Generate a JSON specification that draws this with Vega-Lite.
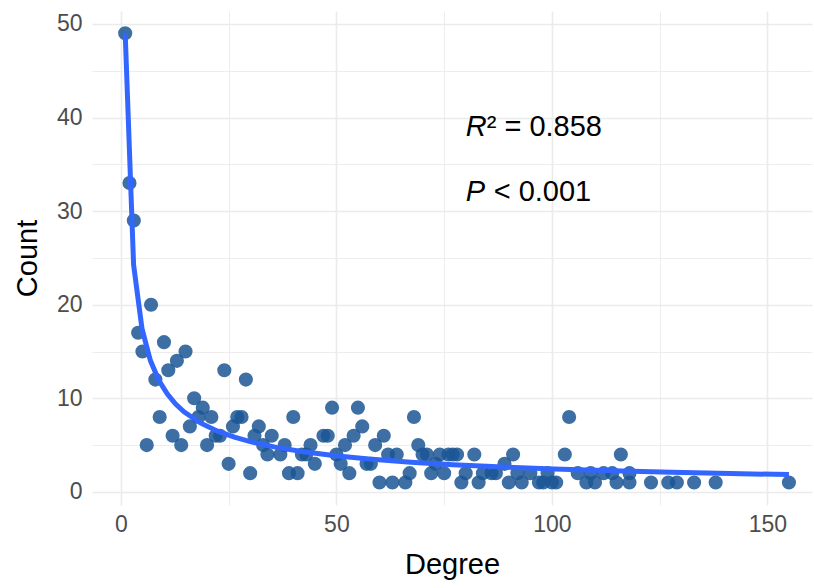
{
  "$schema": "https://vega.github.io/schema/vega-lite/v6.json",
  "width": 720,
  "height": 494,
  "autosize": "none",
  "padding": {"left": 92, "top": 11, "right": 2, "bottom": 83},
  "background": "white",
  "config": {
    "view": {"stroke": null},
    "font": "Liberation Sans",
    "axis": {
      "domain": false,
      "ticks": false,
      "gridColor": "#EBEBEB",
      "labelFont": "Liberation Sans",
      "labelFontSize": 23,
      "labelColor": "#4D4D4D",
      "titleFont": "Liberation Sans",
      "titleFontSize": 29,
      "titleFontWeight": "normal",
      "titleColor": "#000000"
    }
  },
  "datasets": {
    "pts": [
      {"degree": 1, "count": 49}, {"degree": 2, "count": 33}, {"degree": 3, "count": 29},
      {"degree": 4, "count": 17}, {"degree": 5, "count": 15}, {"degree": 6, "count": 5},
      {"degree": 7, "count": 20}, {"degree": 8, "count": 12}, {"degree": 9, "count": 8},
      {"degree": 10, "count": 16}, {"degree": 11, "count": 13}, {"degree": 12, "count": 6},
      {"degree": 13, "count": 14}, {"degree": 14, "count": 5}, {"degree": 15, "count": 15},
      {"degree": 16, "count": 7}, {"degree": 17, "count": 10}, {"degree": 18, "count": 8},
      {"degree": 19, "count": 9}, {"degree": 20, "count": 5}, {"degree": 21, "count": 8},
      {"degree": 22, "count": 6}, {"degree": 23, "count": 6}, {"degree": 24, "count": 13},
      {"degree": 25, "count": 3}, {"degree": 26, "count": 7}, {"degree": 27, "count": 8},
      {"degree": 28, "count": 8}, {"degree": 29, "count": 12}, {"degree": 30, "count": 2},
      {"degree": 31, "count": 6}, {"degree": 32, "count": 7}, {"degree": 33, "count": 5},
      {"degree": 34, "count": 4}, {"degree": 35, "count": 6}, {"degree": 37, "count": 4},
      {"degree": 38, "count": 5}, {"degree": 39, "count": 2}, {"degree": 40, "count": 8},
      {"degree": 41, "count": 2}, {"degree": 42, "count": 4}, {"degree": 43, "count": 4},
      {"degree": 44, "count": 5}, {"degree": 45, "count": 3}, {"degree": 47, "count": 6},
      {"degree": 48, "count": 6}, {"degree": 49, "count": 9}, {"degree": 50, "count": 4},
      {"degree": 51, "count": 3}, {"degree": 52, "count": 5}, {"degree": 53, "count": 2},
      {"degree": 54, "count": 6}, {"degree": 55, "count": 9}, {"degree": 56, "count": 7},
      {"degree": 57, "count": 3}, {"degree": 58, "count": 3}, {"degree": 59, "count": 5},
      {"degree": 60, "count": 1}, {"degree": 61, "count": 6}, {"degree": 62, "count": 4},
      {"degree": 63, "count": 1}, {"degree": 64, "count": 4}, {"degree": 66, "count": 1},
      {"degree": 67, "count": 2}, {"degree": 68, "count": 8}, {"degree": 69, "count": 5},
      {"degree": 70, "count": 4}, {"degree": 71, "count": 4}, {"degree": 72, "count": 2},
      {"degree": 73, "count": 3}, {"degree": 74, "count": 4}, {"degree": 75, "count": 2},
      {"degree": 76, "count": 4}, {"degree": 77, "count": 4}, {"degree": 78, "count": 4},
      {"degree": 79, "count": 1}, {"degree": 80, "count": 2}, {"degree": 82, "count": 4},
      {"degree": 83, "count": 1}, {"degree": 84, "count": 2}, {"degree": 86, "count": 2},
      {"degree": 87, "count": 2}, {"degree": 89, "count": 3}, {"degree": 90, "count": 1},
      {"degree": 91, "count": 4}, {"degree": 92, "count": 2}, {"degree": 93, "count": 1},
      {"degree": 95, "count": 2}, {"degree": 97, "count": 1}, {"degree": 98, "count": 1},
      {"degree": 99, "count": 2}, {"degree": 100, "count": 1}, {"degree": 101, "count": 1},
      {"degree": 103, "count": 4}, {"degree": 104, "count": 8}, {"degree": 106, "count": 2},
      {"degree": 108, "count": 1}, {"degree": 109, "count": 2}, {"degree": 110, "count": 1},
      {"degree": 112, "count": 2}, {"degree": 114, "count": 2}, {"degree": 115, "count": 1},
      {"degree": 116, "count": 4}, {"degree": 118, "count": 2}, {"degree": 118, "count": 1},
      {"degree": 123, "count": 1}, {"degree": 127, "count": 1}, {"degree": 129, "count": 1},
      {"degree": 133, "count": 1}, {"degree": 138, "count": 1}, {"degree": 155, "count": 1}
    ],
    "fit": [
      {"degree": 1, "count": 49}, {"degree": 2.95, "count": 24.26}, {"degree": 4.9, "count": 17.44},
      {"degree": 6.85, "count": 14.03}, {"degree": 8.8, "count": 11.92}, {"degree": 10.75, "count": 10.47},
      {"degree": 12.7, "count": 9.39}, {"degree": 14.65, "count": 8.56}, {"degree": 18.55, "count": 7.34},
      {"degree": 22.45, "count": 6.49}, {"degree": 26.35, "count": 5.85}, {"degree": 30.25, "count": 5.34},
      {"degree": 36.1, "count": 4.76}, {"degree": 41.95, "count": 4.32}, {"degree": 49.75, "count": 3.86},
      {"degree": 57.55, "count": 3.52}, {"degree": 67.3, "count": 3.18}, {"degree": 77.05, "count": 2.91},
      {"degree": 88.75, "count": 2.65}, {"degree": 100.45, "count": 2.45}, {"degree": 114.1, "count": 2.26},
      {"degree": 127.75, "count": 2.09}, {"degree": 141.4, "count": 1.96}, {"degree": 155, "count": 1.85}
    ]
  },
  "layer": [
    {
      "data": {"name": "pts"},
      "mark": {"type": "circle", "size": 200, "color": "#1B5695", "opacity": 0.85},
      "encoding": {
        "x": {
          "field": "degree", "type": "quantitative",
          "scale": {"domain": [-6.7, 160.35], "nice": false, "zero": false},
          "axis": {
            "title": "Degree",
            "values": [0, 25, 50, 75, 100, 125, 150],
            "labelExpr": "datum.value % 50 === 0 ? datum.label : ''",
            "gridWidth": {"condition": {"test": "datum.value % 50 === 0", "value": 1.6}, "value": 0.9},
            "labelPadding": 8,
            "titlePadding": 14
          }
        },
        "y": {
          "field": "count", "type": "quantitative",
          "scale": {"domain": [-1.4, 51.38], "nice": false, "zero": false},
          "axis": {
            "title": "Count",
            "values": [0, 5, 10, 15, 20, 25, 30, 35, 40, 45, 50],
            "labelExpr": "datum.value % 10 === 0 ? datum.label : ''",
            "gridWidth": {"condition": {"test": "datum.value % 10 === 0", "value": 1.6}, "value": 0.9},
            "labelPadding": 10,
            "titlePadding": 14
          }
        }
      }
    },
    {
      "data": {"name": "fit"},
      "mark": {"type": "line", "color": "#3366FF", "strokeWidth": 5, "strokeCap": "butt"},
      "encoding": {
        "x": {"field": "degree", "type": "quantitative"},
        "y": {"field": "count", "type": "quantitative"}
      }
    },
    {
      "data": {"values": [{"degree": 80, "count": 39, "t": "R"}, {"degree": 80, "count": 32, "t": "P"}]},
      "mark": {"type": "text", "align": "left", "baseline": "middle", "fontSize": 29, "fontStyle": "italic", "font": "Liberation Sans", "color": "black"},
      "encoding": {
        "x": {"field": "degree", "type": "quantitative"},
        "y": {"field": "count", "type": "quantitative"},
        "text": {"field": "t"}
      }
    },
    {
      "data": {"values": [{"degree": 80, "count": 39, "t": "² = 0.858"}]},
      "mark": {"type": "text", "align": "left", "baseline": "middle", "fontSize": 29, "dx": 21, "font": "Liberation Sans", "color": "black"},
      "encoding": {
        "x": {"field": "degree", "type": "quantitative"},
        "y": {"field": "count", "type": "quantitative"},
        "text": {"field": "t"}
      }
    },
    {
      "data": {"values": [{"degree": 80, "count": 32, "t": "< 0.001"}]},
      "mark": {"type": "text", "align": "left", "baseline": "middle", "fontSize": 29, "dx": 28, "font": "Liberation Sans", "color": "black"},
      "encoding": {
        "x": {"field": "degree", "type": "quantitative"},
        "y": {"field": "count", "type": "quantitative"},
        "text": {"field": "t"}
      }
    }
  ]
}
